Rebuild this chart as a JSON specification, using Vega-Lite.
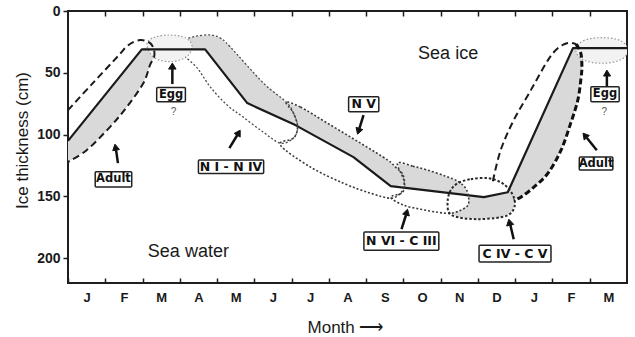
{
  "$schema": "https://vega.github.io/schema/vega-lite/v6.json",
  "width": 559,
  "height": 272,
  "autosize": "none",
  "padding": {"left": 68, "top": 11, "right": 8, "bottom": 54},
  "background": "white",
  "config": {"view": {"stroke": "#1e1e1e", "strokeWidth": 2}, "font": "Liberation Sans"},
  "datasets": {
    "fills": [
      {"g": "AL", "k": 0, "x": 0, "y": 105}, {"g": "AL", "k": 1, "x": 1.98, "y": 31}, {"g": "AL", "k": 2, "x": 2.15, "y": 28.5}, {"g": "AL", "k": 3, "x": 2.28, "y": 31.5}, {"g": "AL", "k": 4, "x": 2.31, "y": 37}, {"g": "AL", "k": 5, "x": 2.2, "y": 44}, {"g": "AL", "k": 6, "x": 2.02, "y": 58.5}, {"g": "AL", "k": 7, "x": 1.58, "y": 77.5}, {"g": "AL", "k": 8, "x": 1.13, "y": 93.7}, {"g": "AL", "k": 9, "x": 0.5, "y": 112.6}, {"g": "AL", "k": 10, "x": 0, "y": 122},
      {"g": "N14", "k": 0, "x": 3.23, "y": 21.9}, {"g": "N14", "k": 1, "x": 3.47, "y": 20.2}, {"g": "N14", "k": 2, "x": 3.82, "y": 19.4}, {"g": "N14", "k": 3, "x": 4.09, "y": 21.9}, {"g": "N14", "k": 4, "x": 4.35, "y": 28.9}, {"g": "N14", "k": 5, "x": 5.25, "y": 58.5}, {"g": "N14", "k": 6, "x": 5.85, "y": 73.5}, {"g": "N14", "k": 7, "x": 6.05, "y": 82.6}, {"g": "N14", "k": 8, "x": 6.12, "y": 92.5}, {"g": "N14", "k": 9, "x": 4.81, "y": 74.5}, {"g": "N14", "k": 10, "x": 3.68, "y": 30.8}, {"g": "N14", "k": 11, "x": 3.3, "y": 30.8},
      {"g": "N5", "k": 0, "x": 5.85, "y": 73.7}, {"g": "N5", "k": 1, "x": 6.24, "y": 77.7}, {"g": "N5", "k": 2, "x": 6.96, "y": 90.7}, {"g": "N5", "k": 3, "x": 7.85, "y": 106.9}, {"g": "N5", "k": 4, "x": 8.58, "y": 120.6}, {"g": "N5", "k": 5, "x": 8.79, "y": 126.3}, {"g": "N5", "k": 6, "x": 8.98, "y": 132}, {"g": "N5", "k": 7, "x": 9.03, "y": 141}, {"g": "N5", "k": 8, "x": 8.66, "y": 141.7}, {"g": "N5", "k": 9, "x": 7.66, "y": 118.2}, {"g": "N5", "k": 10, "x": 6.14, "y": 93}, {"g": "N5", "k": 11, "x": 6.05, "y": 82.6},
      {"g": "N6C3", "k": 0, "x": 8.84, "y": 123.1}, {"g": "N6C3", "k": 1, "x": 9.25, "y": 125.5}, {"g": "N6C3", "k": 2, "x": 9.65, "y": 128.7}, {"g": "N6C3", "k": 3, "x": 10.13, "y": 133.6}, {"g": "N6C3", "k": 4, "x": 10.46, "y": 137.7}, {"g": "N6C3", "k": 5, "x": 10.67, "y": 143.3}, {"g": "N6C3", "k": 6, "x": 10.75, "y": 149}, {"g": "N6C3", "k": 7, "x": 9.0, "y": 143}, {"g": "N6C3", "k": 8, "x": 9.01, "y": 136.8},
      {"g": "C45", "k": 0, "x": 10.5, "y": 148.5}, {"g": "C45", "k": 1, "x": 11.16, "y": 150.6}, {"g": "C45", "k": 2, "x": 11.8, "y": 146.6}, {"g": "C45", "k": 3, "x": 11.93, "y": 147.5}, {"g": "C45", "k": 4, "x": 11.99, "y": 157.1}, {"g": "C45", "k": 5, "x": 11.88, "y": 163.6}, {"g": "C45", "k": 6, "x": 11.61, "y": 166.8}, {"g": "C45", "k": 7, "x": 11.0, "y": 168.4}, {"g": "C45", "k": 8, "x": 10.46, "y": 166.8}, {"g": "C45", "k": 9, "x": 10.3, "y": 163.5}, {"g": "C45", "k": 10, "x": 10.54, "y": 161.1}, {"g": "C45", "k": 11, "x": 10.73, "y": 157.1}, {"g": "C45", "k": 12, "x": 10.75, "y": 150.6},
      {"g": "AR", "k": 0, "x": 11.8, "y": 146.6}, {"g": "AR", "k": 1, "x": 13.55, "y": 30}, {"g": "AR", "k": 2, "x": 13.63, "y": 27.5}, {"g": "AR", "k": 3, "x": 13.76, "y": 34}, {"g": "AR", "k": 4, "x": 13.79, "y": 45.3}, {"g": "AR", "k": 5, "x": 13.76, "y": 55.9}, {"g": "AR", "k": 6, "x": 13.68, "y": 72.1}, {"g": "AR", "k": 7, "x": 13.49, "y": 90.7}, {"g": "AR", "k": 8, "x": 13.23, "y": 112.6}, {"g": "AR", "k": 9, "x": 12.88, "y": 131.2}, {"g": "AR", "k": 10, "x": 12.5, "y": 142.5}, {"g": "AR", "k": 11, "x": 12.15, "y": 150.6}, {"g": "AR", "k": 12, "x": 11.96, "y": 153}
    ],
    "solid": [
      {"k": 0, "x": 0, "y": 105}, {"k": 1, "x": 1.98, "y": 31}, {"k": 2, "x": 3.68, "y": 31}, {"k": 3, "x": 4.81, "y": 74.5}, {"k": 4, "x": 6.1, "y": 92.3}, {"k": 5, "x": 7.66, "y": 118.2}, {"k": 6, "x": 8.66, "y": 141.7}, {"k": 7, "x": 11.16, "y": 150.6}, {"k": 8, "x": 11.8, "y": 146.6}, {"k": 9, "x": 13.55, "y": 30}, {"k": 10, "x": 15, "y": 30}
    ],
    "outlines": [
      {"g": "AL", "k": 0, "x": 0, "y": 80.2}, {"g": "AL", "k": 1, "x": 0.66, "y": 58.5}, {"g": "AL", "k": 2, "x": 1.32, "y": 37.2}, {"g": "AL", "k": 3, "x": 1.56, "y": 29.1}, {"g": "AL", "k": 4, "x": 1.75, "y": 25.1}, {"g": "AL", "k": 5, "x": 1.94, "y": 23.5}, {"g": "AL", "k": 6, "x": 2.1, "y": 24.3}, {"g": "AL", "k": 7, "x": 2.23, "y": 26.7}, {"g": "AL", "k": 8, "x": 2.31, "y": 31.6}, {"g": "AL", "k": 9, "x": 2.31, "y": 37.2}, {"g": "AL", "k": 10, "x": 2.2, "y": 43.7}, {"g": "AL", "k": 11, "x": 2.02, "y": 58.5}, {"g": "AL", "k": 12, "x": 1.58, "y": 77.5}, {"g": "AL", "k": 13, "x": 1.13, "y": 93.7}, {"g": "AL", "k": 14, "x": 0.5, "y": 112.6}, {"g": "AL", "k": 15, "x": 0, "y": 122},
      {"g": "N14", "k": 0, "x": 3.23, "y": 21.9}, {"g": "N14", "k": 1, "x": 3.47, "y": 20.2}, {"g": "N14", "k": 2, "x": 3.82, "y": 19.4}, {"g": "N14", "k": 3, "x": 4.09, "y": 21.9}, {"g": "N14", "k": 4, "x": 4.35, "y": 28.9}, {"g": "N14", "k": 5, "x": 5.25, "y": 58.5}, {"g": "N14", "k": 6, "x": 5.85, "y": 73.5}, {"g": "N14", "k": 7, "x": 6.05, "y": 82.6}, {"g": "N14", "k": 8, "x": 6.16, "y": 93.9}, {"g": "N14", "k": 9, "x": 6.05, "y": 102.8}, {"g": "N14", "k": 10, "x": 5.7, "y": 106.9}, {"g": "N14", "k": 11, "x": 5.24, "y": 98}, {"g": "N14", "k": 12, "x": 4.7, "y": 85.8}, {"g": "N14", "k": 13, "x": 4.27, "y": 76.1}, {"g": "N14", "k": 14, "x": 3.82, "y": 61.5}, {"g": "N14", "k": 15, "x": 3.47, "y": 46.2}, {"g": "N14", "k": 16, "x": 3.15, "y": 37.2},
      {"g": "N5", "k": 0, "x": 5.85, "y": 73.7}, {"g": "N5", "k": 1, "x": 6.24, "y": 77.7}, {"g": "N5", "k": 2, "x": 6.96, "y": 90.7}, {"g": "N5", "k": 3, "x": 7.85, "y": 106.9}, {"g": "N5", "k": 4, "x": 8.58, "y": 120.6}, {"g": "N5", "k": 5, "x": 8.79, "y": 126.3}, {"g": "N5", "k": 6, "x": 8.98, "y": 132}, {"g": "N5", "k": 7, "x": 9.03, "y": 140.9}, {"g": "N5", "k": 8, "x": 8.92, "y": 147.4}, {"g": "N5", "k": 9, "x": 8.66, "y": 151.4}, {"g": "N5", "k": 10, "x": 8.12, "y": 147.4}, {"g": "N5", "k": 11, "x": 7.39, "y": 139.3}, {"g": "N5", "k": 12, "x": 6.51, "y": 126.3}, {"g": "N5", "k": 13, "x": 5.7, "y": 108.5}, {"g": "N5", "k": 14, "x": 6.05, "y": 102.8}, {"g": "N5", "k": 15, "x": 6.16, "y": 93.9}, {"g": "N5", "k": 16, "x": 6.05, "y": 82.6},
      {"g": "N6C3", "k": 0, "x": 8.84, "y": 123.1}, {"g": "N6C3", "k": 1, "x": 9.25, "y": 125.5}, {"g": "N6C3", "k": 2, "x": 9.65, "y": 128.7}, {"g": "N6C3", "k": 3, "x": 10.13, "y": 133.6}, {"g": "N6C3", "k": 4, "x": 10.46, "y": 137.7}, {"g": "N6C3", "k": 5, "x": 10.67, "y": 143.3}, {"g": "N6C3", "k": 6, "x": 10.75, "y": 150.6}, {"g": "N6C3", "k": 7, "x": 10.73, "y": 157.1}, {"g": "N6C3", "k": 8, "x": 10.54, "y": 161.1}, {"g": "N6C3", "k": 9, "x": 10.27, "y": 163.6}, {"g": "N6C3", "k": 10, "x": 9.92, "y": 162.8}, {"g": "N6C3", "k": 11, "x": 9.46, "y": 160.3}, {"g": "N6C3", "k": 12, "x": 9.01, "y": 157.1}, {"g": "N6C3", "k": 13, "x": 8.66, "y": 150.6}, {"g": "N6C3", "k": 14, "x": 8.98, "y": 146.6}, {"g": "N6C3", "k": 15, "x": 9.01, "y": 136.8},
      {"g": "C45", "k": 0, "x": 10.46, "y": 139.3}, {"g": "C45", "k": 1, "x": 10.81, "y": 136}, {"g": "C45", "k": 2, "x": 11.26, "y": 135.2}, {"g": "C45", "k": 3, "x": 11.61, "y": 138.5}, {"g": "C45", "k": 4, "x": 11.83, "y": 144.1}, {"g": "C45", "k": 5, "x": 11.96, "y": 150.6}, {"g": "C45", "k": 6, "x": 11.99, "y": 157.1}, {"g": "C45", "k": 7, "x": 11.88, "y": 163.6}, {"g": "C45", "k": 8, "x": 11.61, "y": 166.8}, {"g": "C45", "k": 9, "x": 11.0, "y": 168.4}, {"g": "C45", "k": 10, "x": 10.46, "y": 166.8}, {"g": "C45", "k": 11, "x": 10.22, "y": 162.8}, {"g": "C45", "k": 12, "x": 10.19, "y": 153}, {"g": "C45", "k": 13, "x": 10.27, "y": 144.9},
      {"g": "ARl", "k": 0, "x": 11.4, "y": 137.7}, {"g": "ARl", "k": 1, "x": 11.61, "y": 112.6}, {"g": "ARl", "k": 2, "x": 11.96, "y": 88.3}, {"g": "ARl", "k": 3, "x": 12.42, "y": 64}, {"g": "ARl", "k": 4, "x": 12.88, "y": 39.7}, {"g": "ARl", "k": 5, "x": 13.15, "y": 30}, {"g": "ARl", "k": 6, "x": 13.41, "y": 25.9}, {"g": "ARl", "k": 7, "x": 13.63, "y": 26.7},
      {"g": "ARh", "k": 0, "x": 13.63, "y": 26.7}, {"g": "ARh", "k": 1, "x": 13.76, "y": 34}, {"g": "ARh", "k": 2, "x": 13.79, "y": 45.3}, {"g": "ARh", "k": 3, "x": 13.76, "y": 55.9}, {"g": "ARh", "k": 4, "x": 13.68, "y": 72.1}, {"g": "ARh", "k": 5, "x": 13.49, "y": 90.7}, {"g": "ARh", "k": 6, "x": 13.23, "y": 112.6}, {"g": "ARh", "k": 7, "x": 12.88, "y": 131.2}, {"g": "ARh", "k": 8, "x": 12.5, "y": 142.5}, {"g": "ARh", "k": 9, "x": 12.15, "y": 150.6}, {"g": "ARh", "k": 10, "x": 11.96, "y": 153},
      {"g": "EL", "k": 0, "x": 2.12, "y": 27}, {"g": "EL", "k": 1, "x": 2.3, "y": 21.5}, {"g": "EL", "k": 2, "x": 2.73, "y": 19.4}, {"g": "EL", "k": 3, "x": 3.16, "y": 21.8}, {"g": "EL", "k": 4, "x": 3.33, "y": 29}, {"g": "EL", "k": 5, "x": 3.16, "y": 37.5}, {"g": "EL", "k": 6, "x": 2.73, "y": 41}, {"g": "EL", "k": 7, "x": 2.3, "y": 37.5},
      {"g": "ER", "k": 0, "x": 13.63, "y": 32}, {"g": "ER", "k": 1, "x": 13.83, "y": 24}, {"g": "ER", "k": 2, "x": 14.33, "y": 21.5}, {"g": "ER", "k": 3, "x": 14.83, "y": 24}, {"g": "ER", "k": 4, "x": 15.03, "y": 32}, {"g": "ER", "k": 5, "x": 14.83, "y": 39.5}, {"g": "ER", "k": 6, "x": 14.33, "y": 42.3}, {"g": "ER", "k": 7, "x": 13.83, "y": 39.5}
    ],
    "arrows": [
      {"a": 1, "x": 1.34, "y": 123.1, "x2": 1.29, "y2": 112.5},
      {"a": 2, "x": 2.8, "y": 59.1, "x2": 2.8, "y2": 47},
      {"a": 3, "x": 4.33, "y": 110.9, "x2": 4.54, "y2": 100.5},
      {"a": 4, "x": 7.93, "y": 84.2, "x2": 7.82, "y2": 95},
      {"a": 5, "x": 8.95, "y": 176.5, "x2": 9.07, "y2": 165},
      {"a": 6, "x": 11.96, "y": 184.6, "x2": 11.87, "y2": 173.1},
      {"a": 7, "x": 14.19, "y": 112.6, "x2": 13.92, "y2": 102.5},
      {"a": 8, "x": 14.46, "y": 60.7, "x2": 14.46, "y2": 52.6}
    ],
    "heads": [
      {"a": 1, "k": 0, "x": 1.26, "y": 107.7}, {"a": 1, "k": 1, "x": 1.38, "y": 112}, {"a": 1, "k": 2, "x": 1.2, "y": 113},
      {"a": 2, "k": 0, "x": 2.8, "y": 42.1}, {"a": 2, "k": 1, "x": 2.9, "y": 47}, {"a": 2, "k": 2, "x": 2.7, "y": 47},
      {"a": 3, "k": 0, "x": 4.62, "y": 96.4}, {"a": 3, "k": 1, "x": 4.62, "y": 102}, {"a": 3, "k": 2, "x": 4.46, "y": 99},
      {"a": 4, "k": 0, "x": 7.77, "y": 99.6}, {"a": 4, "k": 1, "x": 7.91, "y": 95.9}, {"a": 4, "k": 2, "x": 7.73, "y": 94.1},
      {"a": 5, "k": 0, "x": 9.11, "y": 160.3}, {"a": 5, "k": 1, "x": 9.16, "y": 165.8}, {"a": 5, "k": 2, "x": 8.98, "y": 164.2},
      {"a": 6, "k": 0, "x": 11.83, "y": 168.4}, {"a": 6, "k": 1, "x": 11.96, "y": 172.6}, {"a": 6, "k": 2, "x": 11.77, "y": 173.9},
      {"a": 7, "k": 0, "x": 13.82, "y": 98.8}, {"a": 7, "k": 1, "x": 13.99, "y": 100.7}, {"a": 7, "k": 2, "x": 13.85, "y": 104.3},
      {"a": 8, "k": 0, "x": 14.46, "y": 47.8}, {"a": 8, "k": 1, "x": 14.56, "y": 52.6}, {"a": 8, "k": 2, "x": 14.37, "y": 52.6}
    ],
    "boxes": [
      {"label": "Adult", "x": 1.22, "y": 136.2, "xa": 0.73, "xb": 1.71, "ya": 130.1, "yb": 142.3},
      {"label": "Egg", "x": 2.765, "y": 67.6, "xa": 2.38, "xb": 3.15, "ya": 61.8, "yb": 73.4},
      {"label": "N I - N IV", "x": 4.375, "y": 126, "xa": 3.5, "xb": 5.25, "ya": 120.6, "yb": 131.4},
      {"label": "N V", "x": 7.935, "y": 75.5, "xa": 7.53, "xb": 8.34, "ya": 69.4, "yb": 81.5},
      {"label": "N VI - C III", "x": 8.945, "y": 186.1, "xa": 7.94, "xb": 9.95, "ya": 178.7, "yb": 193.5},
      {"label": "C IV - C V", "x": 11.995, "y": 196.3, "xa": 11.03, "xb": 12.96, "ya": 189.5, "yb": 203},
      {"label": "Adult", "x": 14.17, "y": 123.4, "xa": 13.72, "xb": 14.62, "ya": 118, "yb": 128.7},
      {"label": "Egg", "x": 14.41, "y": 67.4, "xa": 14.03, "xb": 14.79, "ya": 61.3, "yb": 73.4}
    ],
    "marks": [
      {"t": "?", "x": 2.83, "y": 82},
      {"t": "?", "x": 14.39, "y": 81.5}
    ],
    "regions": [
      {"t": "Sea ice", "x": 10.2, "y": 35},
      {"t": "Sea water", "x": 3.23, "y": 195.1}
    ]
  },
  "encoding": {
    "x": {"field": "x", "type": "quantitative", "scale": {"domain": [0, 15], "nice": false, "zero": false}, "axis": null},
    "y": {"field": "y", "type": "quantitative", "scale": {"domain": [0, 220], "reverse": true, "nice": false, "zero": false}, "axis": null}
  },
  "layer": [
    {
      "data": {"name": "fills"},
      "mark": {"type": "line", "interpolate": "linear-closed", "fill": "#d9d9d9", "strokeOpacity": 0},
      "encoding": {
        "detail": {"field": "g"},
        "order": {"field": "k", "type": "quantitative"},
        "x": {"field": "x", "type": "quantitative", "scale": {"domain": [0, 15], "nice": false, "zero": false},
          "axis": {"orient": "bottom", "values": [0,1,2,3,4,5,6,7,8,9,10,11,12,13,14],
            "labelExpr": "['J','F','M','A','M','J','J','A','S','O','N','D','J','F','M'][datum.value]",
            "labelOffset": 18.6, "labelFlush": false, "labelOverlap": false, "tickSize": -5, "tickWidth": 1.5, "tickColor": "#1e1e1e",
            "domain": false, "grid": false, "labelFont": "Liberation Sans", "labelFontWeight": "bold", "labelFontSize": 13, "labelColor": "#1a1a1a",
            "labelBaseline": "middle", "labelAlign": "center", "labelPadding": 19,
            "title": "Month ⟶", "titleFont": "Liberation Sans", "titleFontSize": 17, "titleFontWeight": "normal", "titleColor": "#1a1a1a",
            "titleX": 277, "titleY": 44, "titleBaseline": "middle", "titleAlign": "center"}},
        "y": {"field": "y", "type": "quantitative", "scale": {"domain": [0, 220], "reverse": true, "nice": false, "zero": false},
          "axis": {"orient": "left", "values": [0, 50, 100, 150, 200], "tickSize": 5, "tickWidth": 1.5, "tickColor": "#1e1e1e", "domain": false, "grid": false,
            "labelFont": "Liberation Sans", "labelFontWeight": "bold", "labelFontSize": 14, "labelColor": "#1a1a1a", "labelPadding": 3, "labelFlush": false,
            "title": "Ice thickness (cm)", "titleFont": "Liberation Sans", "titleFontSize": 17, "titleFontWeight": "normal", "titleColor": "#1a1a1a",
            "titleAngle": -90, "titleX": -46, "titleY": 129, "titleAlign": "center", "titleBaseline": "middle"}}
      }
    },
    {
      "data": {"name": "outlines"},
      "transform": [{"filter": {"field": "g", "oneOf": ["EL", "ER"]}}],
      "mark": {"type": "line", "interpolate": "cardinal-closed", "fill": "#f2f2f2", "stroke": "#9a9a9a", "strokeWidth": 1.2, "strokeDash": [1.5, 2], "clip": true},
      "encoding": {"detail": {"field": "g"}, "order": {"field": "k", "type": "quantitative"}}
    },
    {
      "data": {"name": "solid"},
      "mark": {"type": "line", "stroke": "#1a1a1a", "strokeWidth": 2.2, "strokeJoin": "round"},
      "encoding": {
        "order": {"field": "k", "type": "quantitative"},
        "x": {"field": "x", "type": "quantitative", "scale": {"domain": [0, 15], "nice": false, "zero": false},
          "axis": {"orient": "top", "values": [1,2,3,4,5,6,7,8,9,10,11,12,13,14], "labels": false, "tickSize": -5, "tickWidth": 1.5, "tickColor": "#1e1e1e", "domain": false, "grid": false, "title": null}}
      }
    },
    {
      "data": {"name": "outlines"},
      "transform": [{"filter": {"field": "g", "oneOf": ["N5", "N6C3"]}}],
      "mark": {"type": "line", "interpolate": "cardinal-closed", "stroke": "#3a3a3a", "strokeWidth": 1.6, "strokeDash": [2, 2]},
      "encoding": {"detail": {"field": "g"}, "order": {"field": "k", "type": "quantitative"}}
    },
    {
      "data": {"name": "outlines"},
      "transform": [{"filter": {"field": "g", "oneOf": ["C45"]}}],
      "mark": {"type": "line", "interpolate": "cardinal-closed", "stroke": "#2a2a2a", "strokeWidth": 2, "strokeDash": [2.5, 2]},
      "encoding": {"detail": {"field": "g"}, "order": {"field": "k", "type": "quantitative"}}
    },
    {
      "data": {"name": "outlines"},
      "transform": [{"filter": {"field": "g", "oneOf": ["N14"]}}],
      "mark": {"type": "line", "interpolate": "cardinal", "stroke": "#4a4a4a", "strokeWidth": 1.3, "strokeDash": [2, 2]},
      "encoding": {"detail": {"field": "g"}, "order": {"field": "k", "type": "quantitative"}}
    },
    {
      "data": {"name": "outlines"},
      "transform": [{"filter": {"field": "g", "oneOf": ["AL", "ARl"]}}],
      "mark": {"type": "line", "interpolate": "cardinal", "stroke": "#1a1a1a", "strokeWidth": 2, "strokeDash": [7, 4]},
      "encoding": {"detail": {"field": "g"}, "order": {"field": "k", "type": "quantitative"}}
    },
    {
      "data": {"name": "outlines"},
      "transform": [{"filter": {"field": "g", "oneOf": ["ARh"]}}],
      "mark": {"type": "line", "interpolate": "cardinal", "stroke": "#111111", "strokeWidth": 3, "strokeDash": [6, 3]},
      "encoding": {"detail": {"field": "g"}, "order": {"field": "k", "type": "quantitative"}}
    },
    {
      "data": {"name": "arrows"},
      "mark": {"type": "rule", "stroke": "#111111", "strokeWidth": 2.5},
      "encoding": {"x2": {"field": "x2"}, "y2": {"field": "y2"}}
    },
    {
      "data": {"name": "heads"},
      "mark": {"type": "line", "interpolate": "linear-closed", "fill": "#111111", "stroke": "#111111", "strokeWidth": 1},
      "encoding": {"detail": {"field": "a"}, "order": {"field": "k", "type": "quantitative"}}
    },
    {
      "data": {"name": "boxes"},
      "mark": {"type": "rect", "fill": "white", "stroke": "#222222", "strokeWidth": 1.5, "cornerRadius": 1},
      "encoding": {
        "x": {"field": "xa", "type": "quantitative", "scale": {"domain": [0, 15], "nice": false, "zero": false}, "axis": null},
        "x2": {"field": "xb"},
        "y": {"field": "ya", "type": "quantitative", "scale": {"domain": [0, 220], "reverse": true, "nice": false, "zero": false}, "axis": null},
        "y2": {"field": "yb"}
      }
    },
    {
      "data": {"name": "boxes"},
      "transform": [{"filter": {"field": "label", "oneOf": ["Adult", "Egg"]}}],
      "mark": {"type": "text", "font": "DejaVu Sans", "fontWeight": "bold", "fontSize": 11.5, "fill": "#111111", "baseline": "middle", "align": "center"},
      "encoding": {"text": {"field": "label"}}
    },
    {
      "data": {"name": "boxes"},
      "transform": [{"filter": {"field": "label", "oneOf": ["N I - N IV", "N V", "N VI - C III", "C IV - C V"]}}],
      "mark": {"type": "text", "font": "DejaVu Sans", "fontWeight": "bold", "fontSize": 12.5, "fill": "#111111", "baseline": "middle", "align": "center"},
      "encoding": {"text": {"field": "label"}}
    },
    {
      "data": {"name": "marks"},
      "mark": {"type": "text", "font": "Liberation Sans", "fontSize": 10, "fill": "#555555", "baseline": "middle", "align": "center"},
      "encoding": {"text": {"field": "t"}}
    },
    {
      "data": {"name": "regions"},
      "mark": {"type": "text", "font": "Liberation Sans", "fontSize": 18, "fill": "#1a1a1a", "baseline": "middle", "align": "center"},
      "encoding": {"text": {"field": "t"}}
    }
  ],
  "resolve": {"axis": {"x": "independent", "y": "independent"}}
}
